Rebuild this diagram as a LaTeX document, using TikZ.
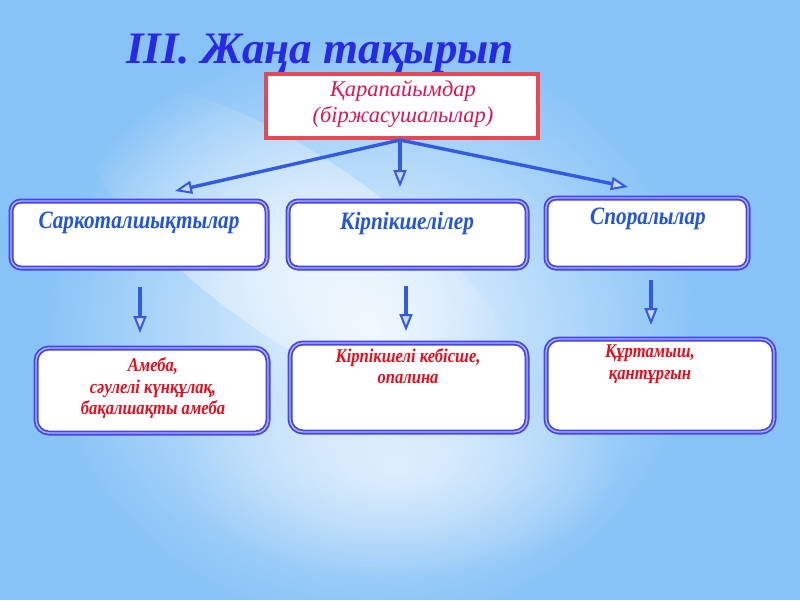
\documentclass[tikz,border=0pt]{standalone}
\usepackage{fontspec}
\setmainfont{Liberation Serif}
\newfontfamily\condfont[FakeStretch=0.85]{Liberation Serif}
\usetikzlibrary{arrows.meta,fadings}
\tikzfading[name=softout, inner color=transparent!0, outer color=transparent!100]
\definecolor{bgblue}{RGB}{135,195,247}
\definecolor{titleblue}{RGB}{40,40,232}
\definecolor{midblue}{RGB}{35,85,220}
\definecolor{boxblue}{RGB}{70,70,232}
\definecolor{boxinner}{RGB}{175,180,250}
\definecolor{arrowblue}{RGB}{50,90,228}
\definecolor{topred}{RGB}{232,72,82}
\definecolor{toptext}{RGB}{222,22,80}
\definecolor{lowred}{RGB}{232,12,28}
\tikzset{
  topbox/.style={draw=topred, line width=3.5pt, fill=white, minimum width=272pt, minimum height=64pt, inner sep=0pt},
  midbox/.style={draw=boxblue, line width=1.8pt, double=boxinner, double distance=1.4pt, fill=white, rounded corners=10pt},
  lowbox/.style={draw=boxblue, line width=1.8pt, double=boxinner, double distance=1.4pt, fill=white, rounded corners=13pt},
  midtext/.style={text=midblue, font=\condfont\fontsize{25}{28}\selectfont\bfseries\itshape, inner sep=0pt},
  lowtext/.style={text=lowred, font=\condfont\fontsize{19.5}{21.5}\selectfont\bfseries\itshape, align=center, inner sep=0pt},
  conn/.style={draw=arrowblue, line width=3.4pt, -{Triangle[length=17pt, width=13pt, line width=2pt, fill=arrowblue!25!white]}}
}
\begin{document}
\begin{tikzpicture}[x=1pt,y=-1pt]
\useasboundingbox (0,0) rectangle (800,600);
\fill[bgblue] (0,0) rectangle (800,600);
\fill[white, opacity=0.85, path fading=softout] (370,330) ellipse [x radius=330pt, y radius=300pt];
\fill[white, opacity=0.6, path fading=softout, rotate around={-35:(300,250)}] (300,250) ellipse [x radius=260pt, y radius=90pt];
\fill[white, opacity=0.5, path fading=softout] (400,470) ellipse [x radius=220pt, y radius=110pt];

\node[text=titleblue, font=\fontsize{45}{48}\selectfont\bfseries\itshape, anchor=base] (title) at (320,63) {III. Жаңа тақырып};

\node[topbox] (top) at (402,106) {};
\node[text=toptext, font=\fontsize{22.5}{26}\selectfont\itshape, align=center] (toptxt) at (403,104) {Қарапайымдар\\(біржасушалылар)};

\draw[midbox] (11,201) rectangle (267,268);
\node[minimum width=256pt, minimum height=67pt] (m1) at (139,234.5) {};
\draw[midbox] (288,201) rectangle (527,268);
\node[minimum width=239pt, minimum height=67pt] (m2) at (407.5,234.5) {};
\draw[midbox] (546,198) rectangle (748,268);
\node[minimum width=202pt, minimum height=70pt] (m3) at (647,233) {};

\node[midtext] (t1) at (139,223) {Саркоталшықтылар};
\node[midtext] (t2) at (407,223) {Кірпікшелілер};
\node[midtext] (t3) at (648,219) {Споралылар};

\draw[lowbox] (36,348) rectangle (268,433);
\node[minimum width=232pt, minimum height=85pt] (b1) at (152,390.5) {};
\draw[lowbox] (290,343) rectangle (527,432);
\node[minimum width=237pt, minimum height=89pt] (b2) at (408.5,387.5) {};
\draw[lowbox] (546,339) rectangle (774,432);
\node[minimum width=228pt, minimum height=93pt] (b3) at (660,385.5) {};

\node[lowtext] (l1) at (153,388) {Амеба,\\сәулелі күнқұлақ,\\бақалшақты амеба};
\node[lowtext] (l2) at (408,366) {Кірпікшелі кебісше,\\опалина};
\node[lowtext] (l3) at (650,364) {Құртамыш,\\қантұрғын};

\coordinate (hub) at (400,140);
\coordinate (e1) at (175,191);
\coordinate (e2) at (400,187);
\coordinate (e3) at (628,187);
\draw[conn] (hub) -- (e1);
\draw[conn] (hub) -- (e2);
\draw[conn] (hub) -- (e3);

\coordinate (s1) at (140,287);
\coordinate (f1) at (140,333);
\coordinate (s2) at (406,286);
\coordinate (f2) at (406,331);
\coordinate (s3) at (651,280);
\coordinate (f3) at (651,325);
\draw[conn] (s1) -- (f1);
\draw[conn] (s2) -- (f2);
\draw[conn] (s3) -- (f3);
\end{tikzpicture}
\end{document}
